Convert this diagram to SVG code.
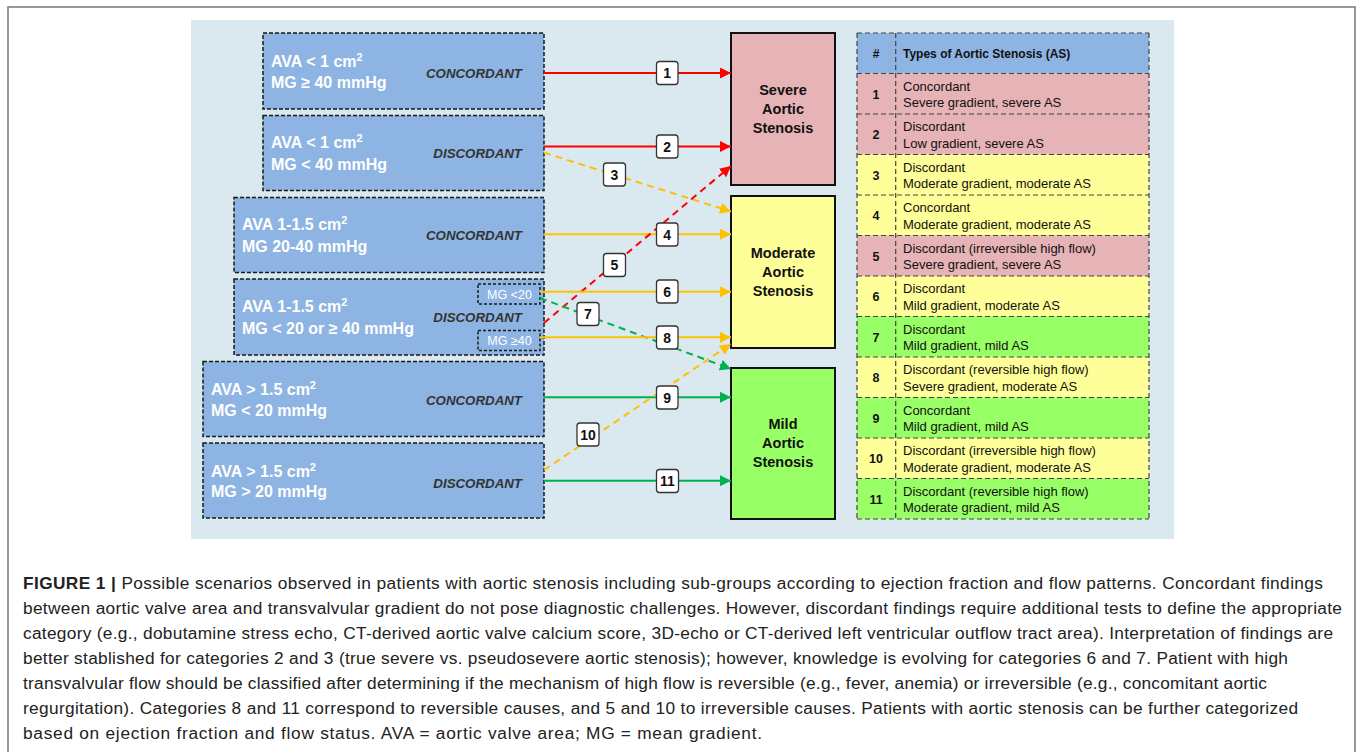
<svg xmlns="http://www.w3.org/2000/svg" width="1357" height="752" viewBox="0 0 1357 752">
<style>
.lbox{fill:#8DB4E2;stroke:#1a1a1a;stroke-width:1.5;stroke-dasharray:4 2}
.lt{font-family:"Liberation Sans",Arial,sans-serif;font-weight:bold;font-size:16px;fill:#fff}
.tag{font-family:"Liberation Sans",Arial,sans-serif;font-weight:bold;font-style:italic;font-size:13.3px;fill:#333}
.sbox{fill:none;stroke:#1a1a1a;stroke-width:1.5;stroke-dasharray:3 2}
.st{font-family:"Liberation Sans",Arial,sans-serif;font-size:12.5px;fill:#fff;text-anchor:middle}
.out{stroke:#111;stroke-width:2}
.ot{font-family:"Liberation Sans",Arial,sans-serif;font-weight:bold;font-size:14.5px;fill:#111;text-anchor:middle}
.c{stroke-width:2;fill:none}
.dash{stroke-dasharray:7 5}
.red{stroke:#FF0000}
.org{stroke:#FFC000}
.grn{stroke:#00B050}
.lab rect{fill:#fff;stroke:#333;stroke-width:1.3}
.lab text{font-family:"Liberation Sans",Arial,sans-serif;font-weight:bold;font-size:14px;fill:#111;text-anchor:middle}
.tl{stroke:#444;stroke-width:1.2;stroke-dasharray:5 3;fill:none}
.th{font-family:"Liberation Sans",Arial,sans-serif;font-weight:bold;font-size:12px;fill:#111}
.tn{font-family:"Liberation Sans",Arial,sans-serif;font-weight:bold;font-size:12.5px;fill:#111;text-anchor:middle}
.tx{font-family:"Liberation Sans",Arial,sans-serif;font-size:13px;fill:#111}
.cap{font-family:"Liberation Sans",Arial,sans-serif;font-size:17.3px;fill:#222}
.pink{fill:#E6B3B6}
.yel{fill:#FFFF99}
.gr{fill:#99FF66}
</style>
<defs>
<marker id="ar-red" viewBox="0 0 10 10" refX="10" refY="5" markerWidth="11" markerHeight="11" markerUnits="userSpaceOnUse" orient="auto"><path d="M0,0 L10,5 L0,10 z" fill="#FF0000"/></marker>
<marker id="ar-org" viewBox="0 0 10 10" refX="10" refY="5" markerWidth="11" markerHeight="11" markerUnits="userSpaceOnUse" orient="auto"><path d="M0,0 L10,5 L0,10 z" fill="#FFC000"/></marker>
<marker id="ar-grn" viewBox="0 0 10 10" refX="10" refY="5" markerWidth="11" markerHeight="11" markerUnits="userSpaceOnUse" orient="auto"><path d="M0,0 L10,5 L0,10 z" fill="#00B050"/></marker>
</defs>

<rect x="0" y="0" width="1357" height="752" fill="#fff"/>
<path d="M8,760 V7 H1355 V760" fill="none" stroke="#777" stroke-width="1.5"/>
<rect x="191" y="20" width="983" height="519" fill="#DAE9EF"/>

<g id="box1">
<rect class="lbox" x="263" y="33" width="281" height="76"/>
<text class="lt" x="271" y="67">AVA &lt; 1 cm<tspan font-size="11" dy="-6">2</tspan></text>
<text class="lt" x="271" y="88">MG ≥ 40 mmHg</text>
<text class="tag" x="522" y="78" text-anchor="end">CONCORDANT</text>
</g>
<g id="box2">
<rect class="lbox" x="263" y="115.5" width="281" height="75"/>
<text class="lt" x="271" y="148">AVA &lt; 1 cm<tspan font-size="11" dy="-6">2</tspan></text>
<text class="lt" x="271" y="170">MG &lt; 40 mmHg</text>
<text class="tag" x="522" y="158" text-anchor="end">DISCORDANT</text>
</g>
<g id="box3">
<rect class="lbox" x="234" y="197.5" width="310" height="75"/>
<text class="lt" x="242" y="230">AVA 1-1.5 cm<tspan font-size="11" dy="-6">2</tspan></text>
<text class="lt" x="242" y="252">MG 20-40 mmHg</text>
<text class="tag" x="522" y="240" text-anchor="end">CONCORDANT</text>
</g>
<g id="box4">
<rect class="lbox" x="234" y="279" width="310" height="76"/>
<text class="lt" x="242" y="312">AVA 1-1.5 cm<tspan font-size="11" dy="-6">2</tspan></text>
<text class="lt" x="242" y="334">MG &lt; 20 or ≥ 40 mmHg</text>
<text class="tag" x="522" y="322" text-anchor="end">DISCORDANT</text>
<rect class="sbox" x="478" y="284" width="62" height="20"/>
<text class="st" x="509.5" y="299">MG &lt;20</text>
<rect class="sbox" x="478" y="330.5" width="62" height="20"/>
<text class="st" x="509.5" y="345">MG ≥40</text>
</g>
<g id="box5">
<rect class="lbox" x="203" y="361.5" width="341" height="75"/>
<text class="lt" x="211" y="395">AVA &gt; 1.5 cm<tspan font-size="11" dy="-6">2</tspan></text>
<text class="lt" x="211" y="416">MG &lt; 20 mmHg</text>
<text class="tag" x="522" y="405" text-anchor="end">CONCORDANT</text>
</g>
<g id="box6">
<rect class="lbox" x="203" y="443" width="341" height="75"/>
<text class="lt" x="211" y="477">AVA &gt; 1.5 cm<tspan font-size="11" dy="-6">2</tspan></text>
<text class="lt" x="211" y="497">MG &gt; 20 mmHg</text>
<text class="tag" x="522" y="488" text-anchor="end">DISCORDANT</text>
</g>

<g id="severe">
<rect class="out pink" x="731" y="33" width="104" height="152"/>
<text class="ot" x="783" y="95">Severe</text>
<text class="ot" x="783" y="114">Aortic</text>
<text class="ot" x="783" y="133">Stenosis</text>
</g>
<g id="moderate">
<rect class="out yel" x="731" y="196" width="104" height="152"/>
<text class="ot" x="783" y="258">Moderate</text>
<text class="ot" x="783" y="277">Aortic</text>
<text class="ot" x="783" y="296">Stenosis</text>
</g>
<g id="mild">
<rect class="out gr" x="731" y="368" width="104" height="151"/>
<text class="ot" x="783" y="429">Mild</text>
<text class="ot" x="783" y="448">Aortic</text>
<text class="ot" x="783" y="467">Stenosis</text>
</g>

<g id="connectors">
<line class="c red" x1="544" y1="73" x2="731" y2="73" marker-end="url(#ar-red)"/>
<line class="c red" x1="544" y1="146.5" x2="731" y2="146.5" marker-end="url(#ar-red)"/>
<line class="c org dash" x1="544" y1="152.7" x2="731" y2="211.5" marker-end="url(#ar-org)"/>
<line class="c org" x1="544" y1="234.3" x2="731" y2="234.3" marker-end="url(#ar-org)"/>
<line class="c red dash" x1="544" y1="323" x2="731" y2="166" marker-end="url(#ar-red)"/>
<line class="c org" x1="540" y1="291.7" x2="731" y2="291.7" marker-end="url(#ar-org)"/>
<line class="c grn dash" x1="540" y1="298" x2="731" y2="369" marker-end="url(#ar-grn)"/>
<line class="c org" x1="540" y1="337.3" x2="731" y2="337.3" marker-end="url(#ar-org)"/>
<line class="c grn" x1="544" y1="397.3" x2="731" y2="397.3" marker-end="url(#ar-grn)"/>
<line class="c org dash" x1="544" y1="470" x2="731" y2="344" marker-end="url(#ar-org)"/>
<line class="c grn" x1="544" y1="480.7" x2="731" y2="480.7" marker-end="url(#ar-grn)"/>
<g class="lab"><rect x="656.5" y="61.5" width="21.5" height="23" rx="3"/><text x="667.2" y="78">1</text></g>
<g class="lab"><rect x="656.5" y="135" width="21.5" height="23" rx="3"/><text x="667.2" y="151.5">2</text></g>
<g class="lab"><rect x="603.5" y="163" width="22" height="23" rx="3"/><text x="614.5" y="179.5">3</text></g>
<g class="lab"><rect x="656.5" y="223" width="21.5" height="23" rx="3"/><text x="667.2" y="239.5">4</text></g>
<g class="lab"><rect x="603.5" y="253.5" width="22" height="23" rx="3"/><text x="614.5" y="270">5</text></g>
<g class="lab"><rect x="656.5" y="280" width="21.5" height="23" rx="3"/><text x="667.2" y="296.5">6</text></g>
<g class="lab"><rect x="577" y="302.5" width="22" height="23" rx="3"/><text x="588" y="319">7</text></g>
<g class="lab"><rect x="656.5" y="326" width="21.5" height="23" rx="3"/><text x="667.2" y="342.5">8</text></g>
<g class="lab"><rect x="656.5" y="386" width="21.5" height="23" rx="3"/><text x="667.2" y="402.5">9</text></g>
<g class="lab"><rect x="577" y="423" width="22" height="23" rx="3"/><text x="588" y="439.5">10</text></g>
<g class="lab"><rect x="656.5" y="469.5" width="22" height="23" rx="3"/><text x="667.5" y="486">11</text></g>
</g>

<g id="table">
<rect x="857" y="33" width="292" height="40.5" fill="#8DB4E2"/>
<rect class="pink" x="857" y="73.5" width="292" height="40.5"/>
<rect class="pink" x="857" y="114" width="292" height="40.5"/>
<rect class="yel" x="857" y="154.5" width="292" height="40.5"/>
<rect class="yel" x="857" y="195" width="292" height="40.5"/>
<rect class="pink" x="857" y="235.5" width="292" height="40.5"/>
<rect class="yel" x="857" y="276" width="292" height="40.5"/>
<rect class="gr" x="857" y="316.5" width="292" height="40.5"/>
<rect class="yel" x="857" y="357" width="292" height="40.5"/>
<rect class="gr" x="857" y="397.5" width="292" height="40.5"/>
<rect class="yel" x="857" y="438" width="292" height="40.5"/>
<rect class="gr" x="857" y="478.5" width="292" height="40.5"/>
<path class="tl" d="M857,33 H1149 M857,73.5 H1149 M857,114 H1149 M857,154.5 H1149 M857,195 H1149 M857,235.5 H1149 M857,276 H1149 M857,316.5 H1149 M857,357 H1149 M857,397.5 H1149 M857,438 H1149 M857,478.5 H1149 M857,519 H1149 M857,33 V519 M895.7,33 V519 M1149,33 V519"/>
<text class="th" x="876" y="58" text-anchor="middle">#</text>
<text class="th" x="903" y="58">Types of Aortic Stenosis (AS)</text>
<text class="tn" x="876" y="98.5">1</text>
<text class="tx" x="903" y="90.5">Concordant</text><text class="tx" x="903" y="107">Severe gradient, severe AS</text>
<text class="tn" x="876" y="139">2</text>
<text class="tx" x="903" y="131">Discordant</text><text class="tx" x="903" y="147.5">Low gradient, severe AS</text>
<text class="tn" x="876" y="179.5">3</text>
<text class="tx" x="903" y="171.5">Discordant</text><text class="tx" x="903" y="188">Moderate gradient, moderate AS</text>
<text class="tn" x="876" y="220">4</text>
<text class="tx" x="903" y="212">Concordant</text><text class="tx" x="903" y="228.5">Moderate gradient, moderate AS</text>
<text class="tn" x="876" y="260.5">5</text>
<text class="tx" x="903" y="252.5">Discordant (irreversible high flow)</text><text class="tx" x="903" y="269">Severe gradient, severe AS</text>
<text class="tn" x="876" y="301">6</text>
<text class="tx" x="903" y="293">Discordant</text><text class="tx" x="903" y="309.5">Mild gradient, moderate AS</text>
<text class="tn" x="876" y="341.5">7</text>
<text class="tx" x="903" y="333.5">Discordant</text><text class="tx" x="903" y="350">Mild gradient, mild AS</text>
<text class="tn" x="876" y="382">8</text>
<text class="tx" x="903" y="374">Discordant (reversible high flow)</text><text class="tx" x="903" y="390.5">Severe gradient, moderate AS</text>
<text class="tn" x="876" y="422.5">9</text>
<text class="tx" x="903" y="414.5">Concordant</text><text class="tx" x="903" y="431">Mild gradient, mild AS</text>
<text class="tn" x="876" y="463">10</text>
<text class="tx" x="903" y="455">Discordant (irreversible high flow)</text><text class="tx" x="903" y="471.5">Moderate gradient, moderate AS</text>
<text class="tn" x="876" y="503.5">11</text>
<text class="tx" x="903" y="495.5">Discordant (reversible high flow)</text><text class="tx" x="903" y="512">Moderate gradient, mild AS</text>
</g>

<g id="caption">
<text class="cap" x="23" y="588.5" textLength="1300" lengthAdjust="spacing"><tspan font-weight="bold">FIGURE 1 | </tspan>Possible scenarios observed in patients with aortic stenosis including sub-groups according to ejection fraction and flow patterns. Concordant findings</text>
<text class="cap" x="23" y="613.5" textLength="1319" lengthAdjust="spacing">between aortic valve area and transvalvular gradient do not pose diagnostic challenges. However, discordant findings require additional tests to define the appropriate</text>
<text class="cap" x="23" y="638.5" textLength="1310" lengthAdjust="spacing">category (e.g., dobutamine stress echo, CT-derived aortic valve calcium score, 3D-echo or CT-derived left ventricular outflow tract area). Interpretation of findings are</text>
<text class="cap" x="23" y="663.5" textLength="1265" lengthAdjust="spacing">better stablished for categories 2 and 3 (true severe vs. pseudosevere aortic stenosis); however, knowledge is evolving for categories 6 and 7. Patient with high</text>
<text class="cap" x="23" y="688.5" textLength="1244" lengthAdjust="spacing">transvalvular flow should be classified after determining if the mechanism of high flow is reversible (e.g., fever, anemia) or irreversible (e.g., concomitant aortic</text>
<text class="cap" x="23" y="713.5" textLength="1275" lengthAdjust="spacing">regurgitation). Categories 8 and 11 correspond to reversible causes, and 5 and 10 to irreversible causes. Patients with aortic stenosis can be further categorized</text>
<text class="cap" x="23" y="738.5" textLength="739" lengthAdjust="spacing">based on ejection fraction and flow status. AVA = aortic valve area; MG = mean gradient.</text>
</g>
</svg>
